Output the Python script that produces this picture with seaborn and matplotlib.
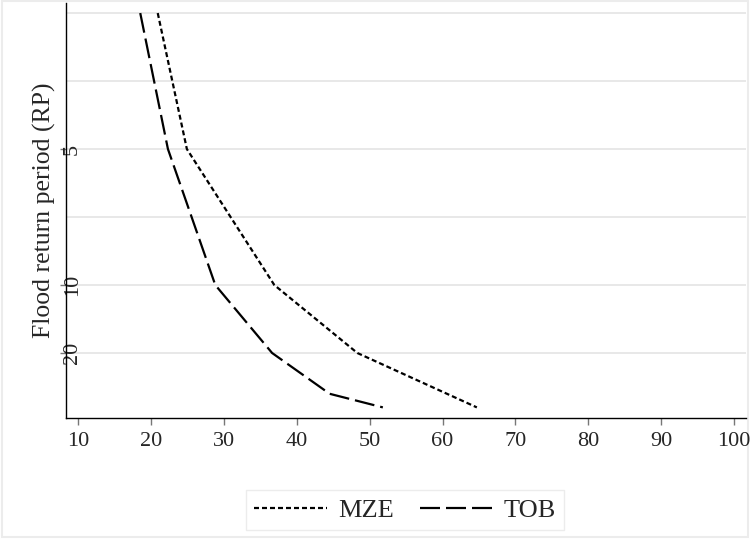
import matplotlib
matplotlib.use("Agg")
import matplotlib.pyplot as plt
from matplotlib.patches import Rectangle
import seaborn as sns
import pandas as pd

# ---- data ----
mze_prob = [0.30, 0.20, 0.10, 0.05, 0.01]
mze_value = [20.9, 24.9, 36.9, 48.3, 64.7]
tob_prob = [0.30, 0.20, 0.10, 0.05, 0.02, 0.01]
tob_value = [18.5, 22.3, 28.8, 36.6, 44.5, 51.8]
series_names = ["MZE", "TOB"]
x_ticks = [10, 20, 30, 40, 50, 60, 70, 80, 90, 100]
y_grid = [0.05, 0.10, 0.15, 0.20, 0.25, 0.30]
y_tick_pos = [0.20, 0.10, 0.05]
y_tick_labels = ["5", "10", "20"]

df = pd.concat([
    pd.DataFrame({"value": mze_value, "prob": mze_prob, "series": series_names[0]}),
    pd.DataFrame({"value": tob_value, "prob": tob_prob, "series": series_names[1]}),
], ignore_index=True)

sns.set_theme(style="ticks")
plt.rcParams["font.family"] = ["Liberation Serif", "DejaVu Serif"]

W, H = 751, 540
fig = plt.figure(figsize=(W / 100, H / 100), dpi=100)

fig.patches.append(Rectangle((2 / W, 3 / H), (748 - 2) / W, (539 - 3) / H,
                             transform=fig.transFigure, fill=False,
                             edgecolor="#ececec", lw=1.5, zorder=-5))

ax = fig.add_axes([66 / W, 1 - 418 / H, (745.7 - 66) / W, (418 - 3) / H])
ax.patch.set_alpha(0)

for g in y_grid:
    ax.axhline(g, color="#e6e6e6", lw=1.3, zorder=0)

sns.lineplot(data=df, x="value", y="prob", style="series",
             dashes={"MZE": (2.25, 1.35), "TOB": (9.0, 2.7)},
             color="black", lw=1.6, estimator=None, sort=False, ax=ax,
             legend=True)

ax.set_xlim(8.31, 101.6)
ax.set_ylim(0.0022, 0.3074)
ax.set_xticks(x_ticks)
ax.set_xticklabels([str(t) for t in x_ticks], fontsize=16)
ax.set_yticks(y_tick_pos)
ax.set_yticklabels(y_tick_labels, fontsize=16, rotation=90, va="center", ha="center")
ax.tick_params(axis="x", length=5, width=1, color="#777777", pad=5)
ax.tick_params(axis="y", length=4, width=1, color="#777777", pad=-8.5)
ax.set_xlabel("")
ax.set_ylabel("Flood return period (RP)", fontsize=18.5, labelpad=3)

for s in ["top", "right"]:
    ax.spines[s].set_visible(False)
for s in ["left", "bottom"]:
    ax.spines[s].set_color("black")
    ax.spines[s].set_linewidth(1.0)

handles, labels = ax.get_legend_handles_labels()
ax.legend_.remove()
leg = fig.legend(handles, labels, loc="center", bbox_to_anchor=(405 / W, 1 - 510 / H),
                 ncol=2, fontsize=19, handlelength=2.75, frameon=True, fancybox=False,
                 edgecolor="#ececec", framealpha=1, columnspacing=1.0, handletextpad=0.42,
                 borderpad=0.3, borderaxespad=0)
leg.get_frame().set_linewidth(1.0)

fig.savefig("out.png", dpi=100, facecolor="white")
